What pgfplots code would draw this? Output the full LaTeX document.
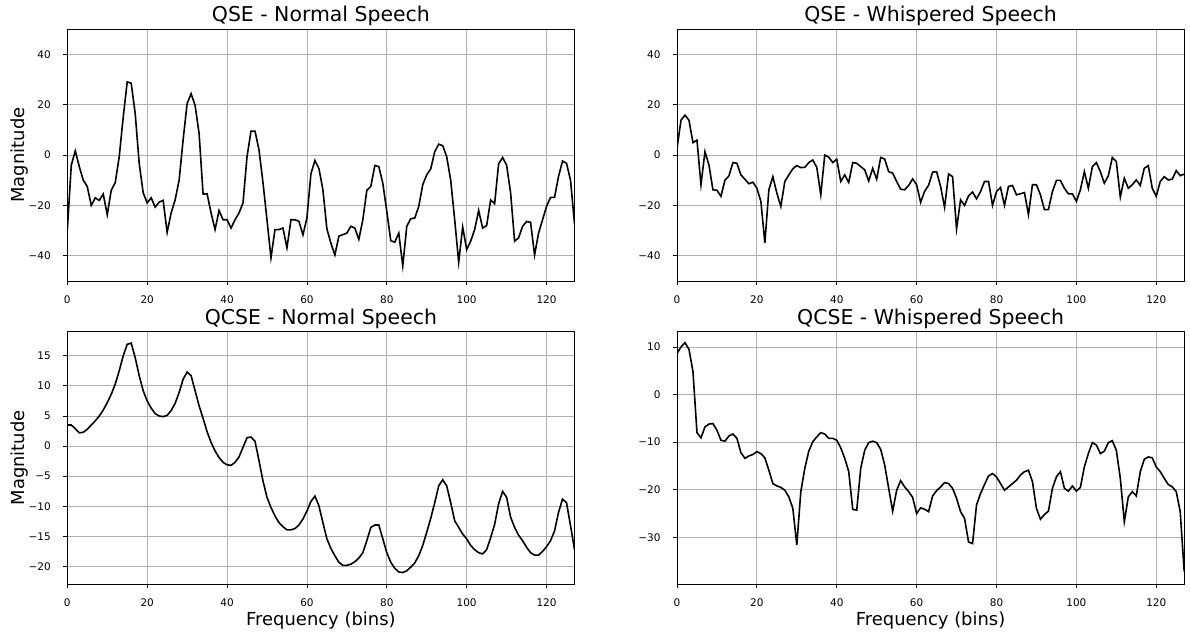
\documentclass[border=0pt]{standalone}
\usepackage{fontspec}
\setmainfont{DejaVu Sans}
\usepackage{pgfplots}
\pgfplotsset{compat=1.18}
\definecolor{gridgray}{RGB}{176,176,176}
\pgfplotsset{
  panel/.style={
    scale only axis, width=507.2bp, height=252bp,
    anchor=south west,
    xmin=0, xmax=127,
    xtick={0,20,...,120},
    grid=major,
    major grid style={gridgray, line width=0.8bp},
    axis line style={black, line width=0.8bp},
    tick align=outside, major tick length=4bp,
    tick style={black, line width=0.8bp},
    tick pos=left,
    /pgf/number format/assume math mode=true,
    ticklabel style={font=\fontsize{10.5}{12}\selectfont, inner sep=0pt},
    xticklabel style={anchor=north, yshift=-10.7bp},
    yticklabel style={anchor=east, xshift=-12.3bp},
    every axis title/.style={at={(axis description cs:0.5,1)}, anchor=base, yshift=7.3bp, font=\fontsize{20.5}{24}\selectfont, inner sep=0pt},
    label style={font=\fontsize{18}{21}\selectfont, inner sep=0pt},
    xlabel style={at={(axis description cs:0.5,0)}, anchor=base, yshift=-41bp},
    ylabel style={at={(axis description cs:-0.0848,0.5)}, anchor=base},
    cycle list={{black, line width=1.6bp, mark=none}},
  },
  toprow/.style={ymin=-50, ymax=50, ytick={-40,-20,0,20,40}, yticklabels={−40,−20,0,20,40}},
}
\begin{document}
\begin{tikzpicture}
\useasboundingbox (0bp,0bp) rectangle (1190bp,635bp);
% Top-left
\begin{axis}[panel, toprow, at={(67.3bp,354bp)}, title={QSE - Normal Speech}, ylabel={Magnitude}]
\addplot[black, line width=1.6bp, mark=none] coordinates {(0,-30) (1,-4) (2,1.6) (3,-4.6) (4,-10) (5,-12.5) (6,-20) (7,-17) (8,-18) (9,-15.5) (10,-23.7) (11,-14) (12,-11) (13,-0.7) (14,15) (15,29) (16,28.5) (17,16.5) (18,-3.3) (19,-15) (20,-19) (21,-17) (22,-20.7) (23,-18.7) (24,-18) (25,-30.7) (26,-23) (27,-17.8) (28,-10) (29,6) (30,20.4) (31,24.3) (32,19.7) (33,8.5) (34,-15.5) (35,-15.4) (36,-23) (37,-29.6) (38,-22) (39,-25.7) (40,-25.7) (41,-29) (42,-25.7) (43,-23) (44,-19) (45,-0.7) (46,9.5) (47,9.5) (48,2) (49,-11) (50,-25.7) (51,-40.8) (52,-29.6) (53,-29.6) (54,-29) (55,-36.8) (56,-25.7) (57,-25.7) (58,-26.3) (59,-31.7) (60,-25) (61,-7.5) (62,-2.2) (63,-5.3) (64,-13.8) (65,-29.3) (66,-35) (67,-39.7) (68,-32.2) (69,-31.6) (70,-31) (71,-28.3) (72,-29) (73,-33.5) (74,-25.7) (75,-14) (76,-12.5) (77,-4.2) (78,-4.6) (79,-11.2) (80,-22.4) (81,-34) (82,-34.6) (83,-31) (84,-44) (85,-28.3) (86,-25.3) (87,-25) (88,-20.4) (89,-11.8) (90,-7.9) (91,-5.5) (92,1.3) (93,4.3) (94,3.7) (95,-0.7) (96,-10) (97,-25.7) (98,-42.5) (99,-28.6) (100,-37.5) (101,-34.2) (102,-29.6) (103,-22) (104,-29) (105,-28) (106,-17.8) (107,-19.3) (108,-3.5) (109,-1) (110,-4) (111,-15) (112,-34.2) (113,-32.9) (114,-28.3) (115,-26.4) (116,-26.7) (117,-39.7) (118,-31) (119,-25.7) (120,-20.4) (121,-16.8) (122,-16.8) (123,-8.5) (124,-2.4) (125,-3.3) (126,-10) (127,-27.2)};
\end{axis}
% Top-right
\begin{axis}[panel, toprow, at={(677bp,354bp)}, title={QSE - Whispered Speech}]
\addplot[black, line width=1.6bp, mark=none] coordinates {(0,2.6) (1,13.8) (2,15.8) (3,13.8) (4,4.9) (5,5.9) (6,-11.8) (7,1.3) (8,-4) (9,-13.8) (10,-14) (11,-16.4) (12,-10) (13,-8.3) (14,-3) (15,-3.3) (16,-7.9) (17,-9.6) (18,-11.4) (19,-10.8) (20,-13.2) (21,-18.4) (22,-34.9) (23,-13.8) (24,-8.6) (25,-15.1) (26,-20.4) (27,-10.5) (28,-7.9) (29,-5.5) (30,-4.2) (31,-5) (32,-4.9) (33,-3) (34,-2) (35,-4.9) (36,-15.8) (37,0) (38,-0.9) (39,-3) (40,-1.7) (41,-10.5) (42,-7.9) (43,-10.9) (44,-3) (45,-3.3) (46,-4.6) (47,-5.9) (48,-10.3) (49,-5.3) (50,-9.6) (51,-1) (52,-1.6) (53,-6.6) (54,-7.2) (55,-10.5) (56,-13.6) (57,-13.8) (58,-12.1) (59,-9.5) (60,-11.8) (61,-18.8) (62,-14.4) (63,-12) (64,-6.8) (65,-6.6) (66,-12.5) (67,-20.8) (68,-7.5) (69,-8.6) (70,-29.3) (71,-17.8) (72,-20) (73,-16.2) (74,-14.7) (75,-17.4) (76,-14.5) (77,-10.5) (78,-10.5) (79,-20) (80,-14.5) (81,-12.9) (82,-20) (83,-12.5) (84,-12.1) (85,-15.8) (86,-15.4) (87,-14.9) (88,-23.7) (89,-11.8) (90,-11.8) (91,-15.8) (92,-21.7) (93,-21.7) (94,-14.5) (95,-10.1) (96,-10.1) (97,-13.2) (98,-15.4) (99,-15.4) (100,-18.4) (101,-13.8) (102,-6.6) (103,-13.2) (104,-4.6) (105,-3) (106,-6.6) (107,-11.2) (108,-8.2) (109,-1) (110,-2.6) (111,-16.7) (112,-9.2) (113,-13.2) (114,-11.8) (115,-9.9) (116,-12.1) (117,-5.3) (118,-4.2) (119,-13.2) (120,-16.4) (121,-10.5) (122,-8.6) (123,-9.9) (124,-9.6) (125,-6.2) (126,-8.2) (127,-7.6)};
\end{axis}
% Bottom-left
\begin{axis}[panel, at={(67.3bp,51bp)}, height=252.3bp, ymin=-22.9, ymax=19.0,
  ytick={-20,-15,-10,-5,0,5,10,15}, yticklabels={−20,−15,−10,−5,0,5,10,15},
  title={QCSE - Normal Speech}, ylabel={Magnitude}, xlabel={Frequency (bins)}]
\addplot[black, line width=1.6bp, mark=none] coordinates {(0,3.5) (1,3.5) (2,2.9) (3,2.2) (4,2.3) (5,2.8) (6,3.5) (7,4.2) (8,5) (9,6) (10,7.2) (11,8.6) (12,10.3) (13,12.5) (14,15) (15,16.9) (16,17.1) (17,14.7) (18,11.7) (19,9.2) (20,7.5) (21,6.3) (22,5.4) (23,5) (24,4.9) (25,5.1) (26,5.9) (27,7.1) (28,8.9) (29,11.1) (30,12.3) (31,11.7) (32,9.2) (33,6.7) (34,4.6) (35,2.4) (36,0.6) (37,-0.8) (38,-1.9) (39,-2.7) (40,-3.1) (41,-3.2) (42,-2.7) (43,-1.8) (44,-0.2) (45,1.4) (46,1.5) (47,0.8) (48,-2.4) (49,-5.8) (50,-8.5) (51,-10.2) (52,-11.6) (53,-12.7) (54,-13.4) (55,-13.9) (56,-13.9) (57,-13.7) (58,-13.1) (59,-12.1) (60,-10.8) (61,-9.2) (62,-8.3) (63,-9.9) (64,-12.7) (65,-15.4) (66,-17) (67,-18.2) (68,-19.3) (69,-19.8) (70,-19.8) (71,-19.6) (72,-19.2) (73,-18.6) (74,-17.7) (75,-15.7) (76,-13.5) (77,-13.1) (78,-13.1) (79,-15.4) (80,-17.7) (81,-19.3) (82,-20.3) (83,-20.9) (84,-21) (85,-20.7) (86,-20.1) (87,-19.4) (88,-18.2) (89,-16.5) (90,-14.3) (91,-12) (92,-9.4) (93,-6.6) (94,-5.6) (95,-6.6) (96,-9.4) (97,-12.4) (98,-13.5) (99,-14.6) (100,-15.4) (101,-16.5) (102,-17.2) (103,-17.7) (104,-17.9) (105,-17.2) (106,-15.2) (107,-13) (108,-9.6) (109,-7.5) (110,-8.5) (111,-11.8) (112,-13.5) (113,-14.8) (114,-15.7) (115,-16.8) (116,-17.7) (117,-18.1) (118,-18.1) (119,-17.5) (120,-16.7) (121,-15.7) (122,-14.1) (123,-11) (124,-8.8) (125,-9.4) (126,-13.2) (127,-17.2)};
\end{axis}
% Bottom-right
\begin{axis}[panel, at={(677bp,51bp)}, height=252.3bp, ymin=-39.8, ymax=13.2,
  ytick={-30,-20,-10,0,10}, yticklabels={−30,−20,−10,0,10},
  title={QCSE - Whispered Speech}, xlabel={Frequency (bins)}]
\addplot[black, line width=1.6bp, mark=none] coordinates {(0,8.6) (1,10) (2,10.9) (3,9.5) (4,4.8) (5,-8) (6,-9.1) (7,-6.8) (8,-6.2) (9,-6.1) (10,-7.5) (11,-9.6) (12,-9.8) (13,-8.7) (14,-8.3) (15,-9.2) (16,-12.2) (17,-13.4) (18,-12.9) (19,-12.6) (20,-12) (21,-12.4) (22,-13.3) (23,-15.9) (24,-18.7) (25,-19.2) (26,-19.5) (27,-20.1) (28,-21.5) (29,-23.9) (30,-31.6) (31,-20.4) (32,-15.5) (33,-11.9) (34,-9.9) (35,-8.9) (36,-8) (37,-8.3) (38,-9.2) (39,-9.2) (40,-9.6) (41,-11.2) (42,-13.4) (43,-16.2) (44,-24.1) (45,-24.3) (46,-15.5) (47,-11.7) (48,-10.1) (49,-9.8) (50,-10.1) (51,-11.5) (52,-14.8) (53,-19.7) (54,-24.5) (55,-20.1) (56,-18.1) (57,-19.4) (58,-20.4) (59,-21.6) (60,-25) (61,-23.8) (62,-24.1) (63,-24.6) (64,-21.3) (65,-20.2) (66,-19.4) (67,-18.5) (68,-18.7) (69,-19.7) (70,-21.8) (71,-24.6) (72,-26) (73,-31) (74,-31.3) (75,-23.2) (76,-20.8) (77,-18.9) (78,-17.1) (79,-16.6) (80,-17.3) (81,-18.7) (82,-20.1) (83,-19.4) (84,-18.7) (85,-18) (86,-16.9) (87,-16.2) (88,-15.9) (89,-18.3) (90,-23.9) (91,-26.2) (92,-25.2) (93,-24.5) (94,-19.7) (95,-17.3) (96,-16.2) (97,-19.7) (98,-20.3) (99,-19.2) (100,-20.3) (101,-19.5) (102,-15.2) (103,-12.4) (104,-10.1) (105,-10.6) (106,-12.4) (107,-11.9) (108,-10.1) (109,-9.7) (110,-11.7) (111,-17.6) (112,-26.7) (113,-21.5) (114,-20.4) (115,-21.3) (116,-16.2) (117,-13.6) (118,-13.1) (119,-13.3) (120,-15.2) (121,-16.2) (122,-17.6) (123,-18.9) (124,-19.4) (125,-20.4) (126,-24.6) (127,-37.2)};
\end{axis}
\end{tikzpicture}
\end{document}
